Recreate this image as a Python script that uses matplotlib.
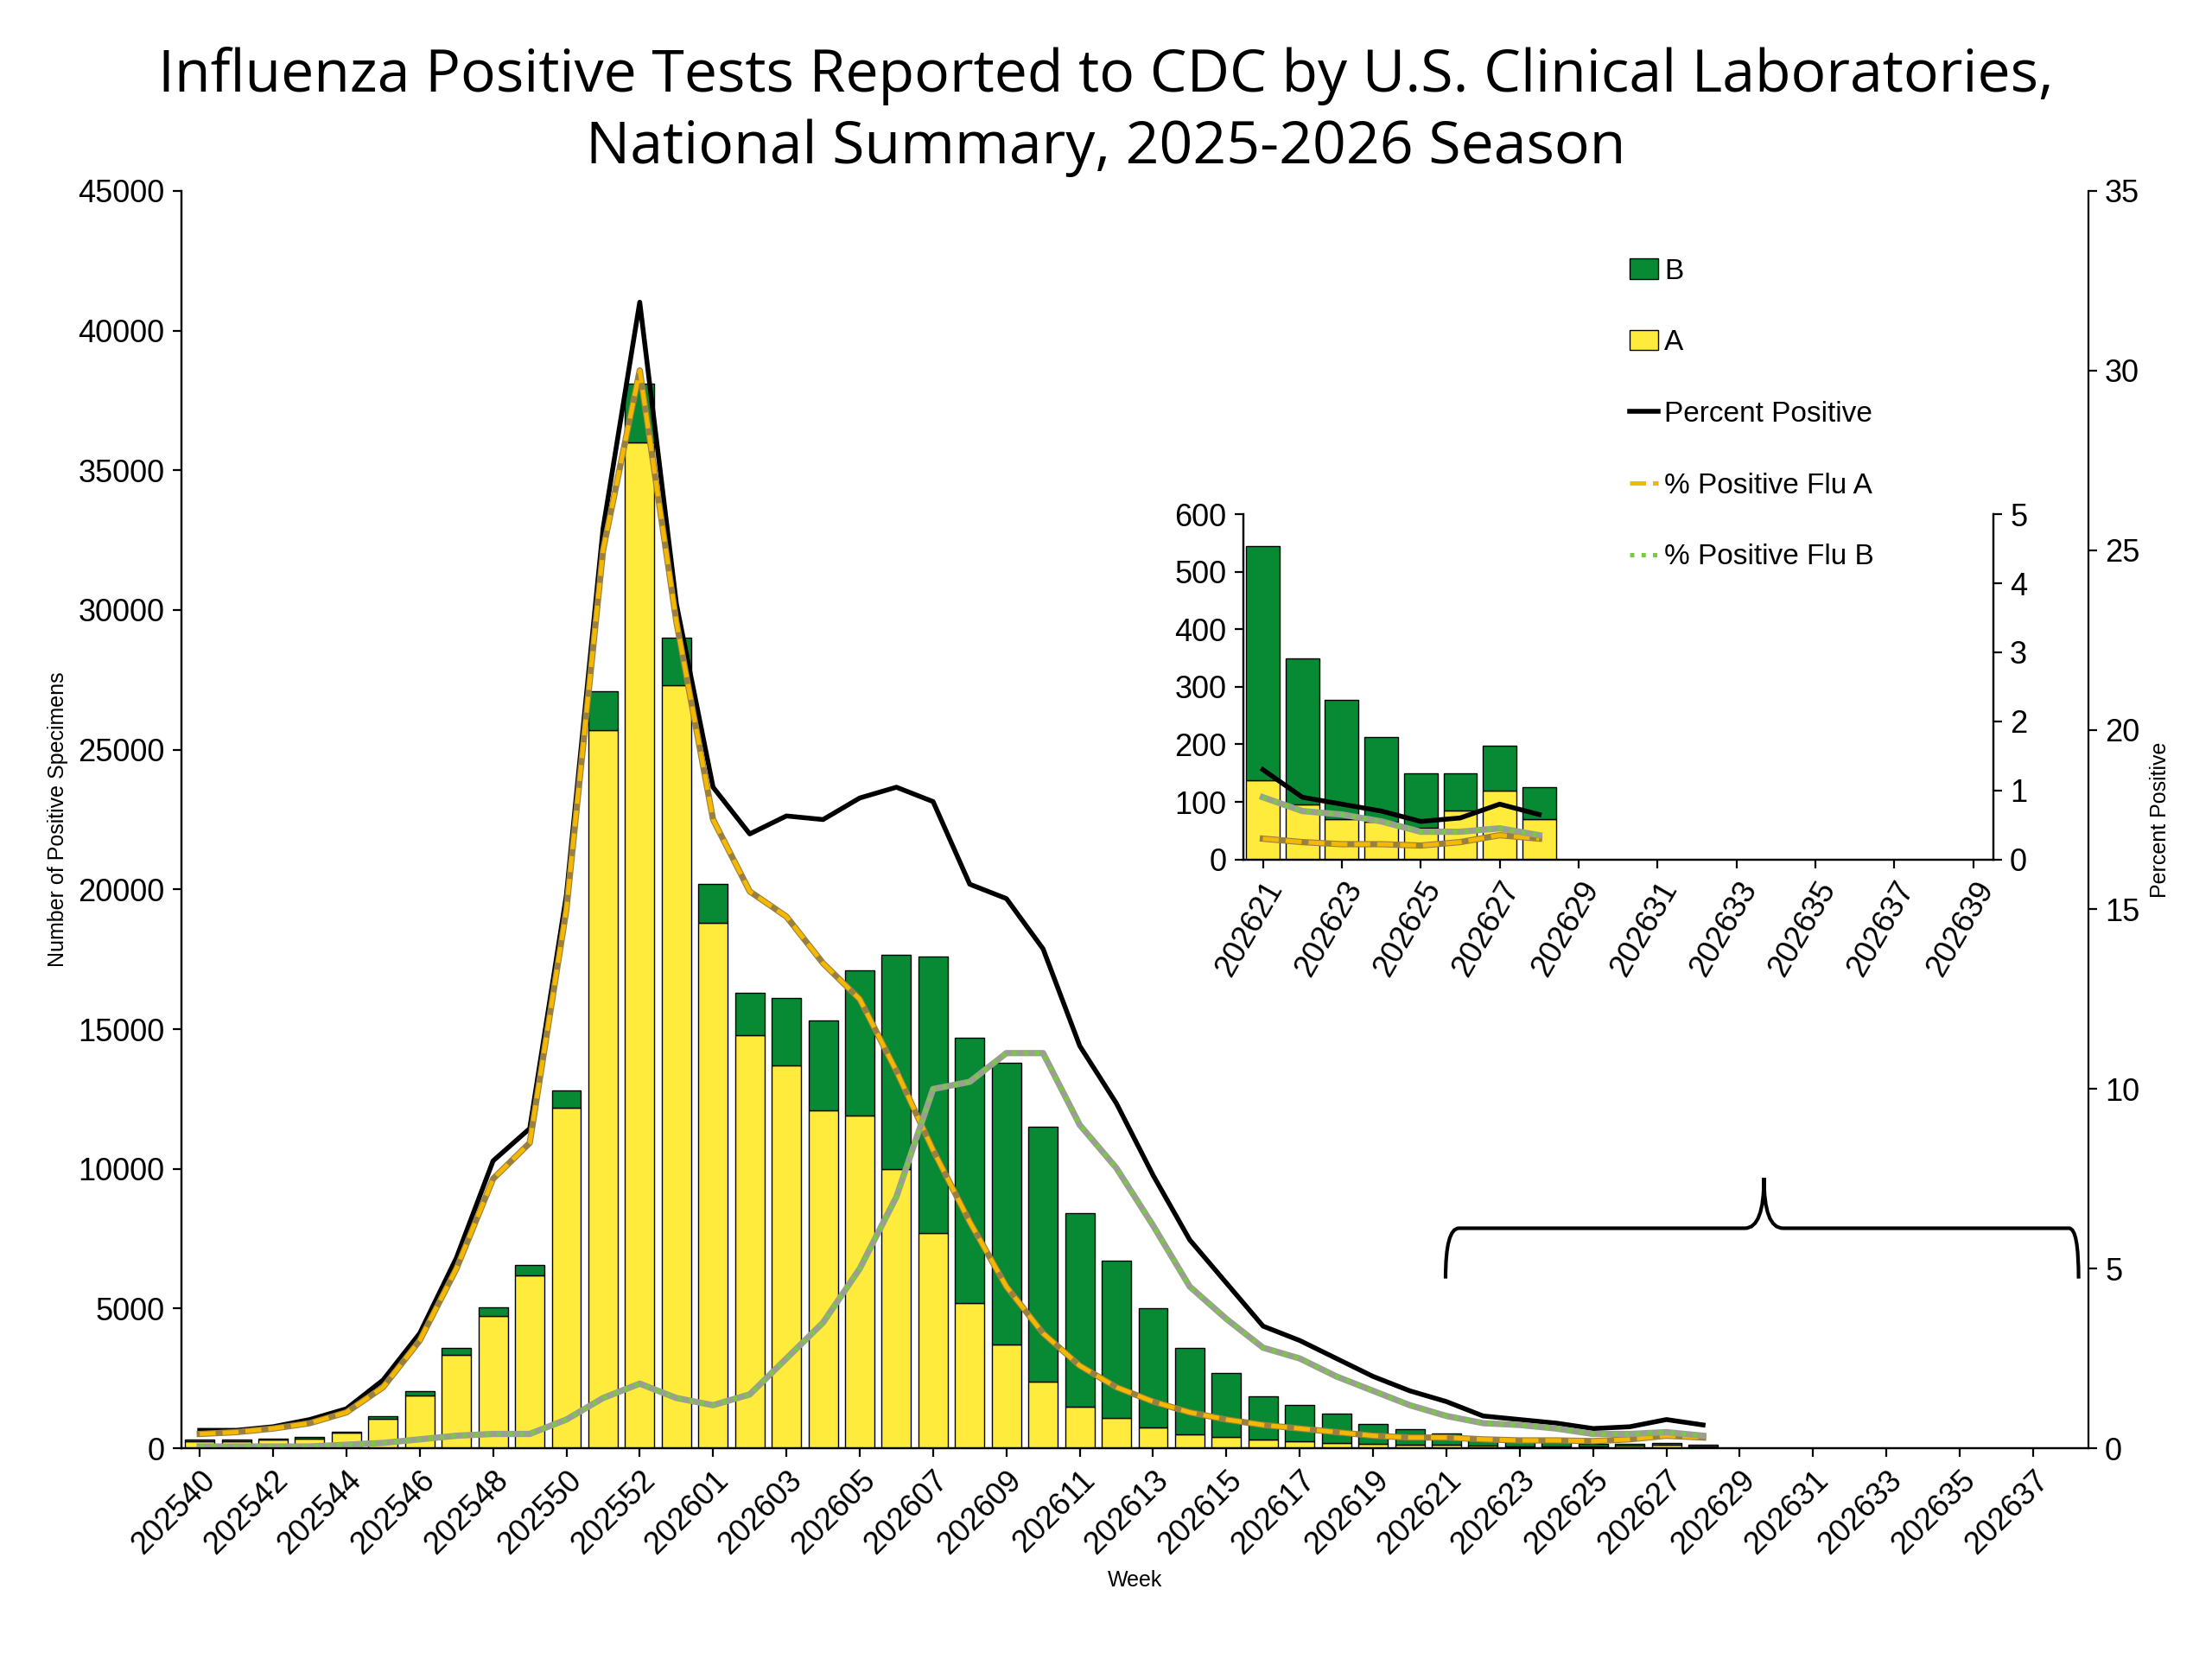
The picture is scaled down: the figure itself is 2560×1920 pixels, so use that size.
import numpy as np
import matplotlib
matplotlib.use('Agg')
from matplotlib import pyplot as plt
from matplotlib.path import Path
from matplotlib.patches import PathPatch

plt.rcParams['font.family'] = ['Liberation Sans', 'DejaVu Sans']

weeks = [str(202540 + i) for i in range(14)] + ['2026%02d' % i for i in range(1, 39)]

total_pos = [300, 300, 350, 400, 600, 1150, 2050, 3600, 5050, 6550, 12800, 27100, 38100, 29000,
             20200, 16300, 16100, 15300, 17100, 17650, 17600, 14700, 13800, 11500, 8400,
             6700, 5000, 3600, 2700, 1850, 1550, 1250, 880, 680, 545, 350, 278, 212, 150, 150, 197, 125]
flu_a = [250, 250, 300, 350, 550, 1050, 1900, 3350, 4750, 6200, 12200, 25700, 36000, 27300,
         18800, 14800, 13700, 12100, 11900, 10000, 7700, 5200, 3700, 2400, 1500,
         1100, 750, 500, 400, 300, 250, 200, 150, 140, 137, 95, 70, 65, 55, 85, 120, 70]
flu_b = [t - a for t, a in zip(total_pos, flu_a)]

pct_pos = [0.5, 0.5, 0.6, 0.8, 1.1, 1.9, 3.2, 5.3, 8.0, 8.9, 15.4, 25.6, 31.9, 23.5,
           18.4, 17.1, 17.6, 17.5, 18.1, 18.4, 18.0, 15.7, 15.3, 13.9, 11.2,
           9.6, 7.6, 5.8, 4.6, 3.4, 3.0, 2.5, 2.0, 1.6, 1.3, 0.9, 0.8, 0.7, 0.55, 0.6, 0.8, 0.65]
pct_a = [0.4, 0.45, 0.55, 0.7, 1.0, 1.7, 3.0, 5.0, 7.5, 8.5, 15.0, 25.0, 30.0, 23.0,
         17.5, 15.5, 14.8, 13.5, 12.5, 10.5, 8.3, 6.3, 4.5, 3.2, 2.3,
         1.7, 1.3, 1.0, 0.8, 0.65, 0.55, 0.45, 0.35, 0.3, 0.3, 0.25, 0.22, 0.22, 0.2, 0.25, 0.35, 0.3]
pct_b = [0.05, 0.05, 0.05, 0.05, 0.1, 0.15, 0.25, 0.35, 0.4, 0.4, 0.8, 1.4, 1.8, 1.4,
         1.2, 1.5, 2.5, 3.5, 5.0, 7.0, 10.0, 10.2, 11.0, 11.0, 9.0,
         7.8, 6.2, 4.5, 3.6, 2.8, 2.5, 2.0, 1.6, 1.2, 0.9, 0.7, 0.65, 0.55, 0.4, 0.4, 0.45, 0.35]

inset_weeks = ['2026%02d' % i for i in range(21, 40)]
n_inset = 8

yellow = '#ffeb3b'
green = '#078a33'


def draw_lines(a, xs, sl):
    a.plot(xs, pct_pos[sl], color='black', lw=2, label='Percent Positive')
    a.plot(xs, pct_a[sl], color='#9a8040', lw=2.6)
    a.plot(xs, pct_a[sl], color='#f5b800', lw=1.8, ls='--', label='% Positive Flu A')
    a.plot(xs, pct_b[sl], color='#9aa090', lw=2.6)
    a.plot(xs, pct_b[sl], color='#7ac943', lw=1.8, ls=':', label='% Positive Flu B')


fig = plt.figure(figsize=(12.8, 9.6), dpi=200)
ax = fig.add_axes([0.082, 0.127, 0.862, 0.758])
x = np.arange(len(weeks))
xd = np.arange(len(total_pos))
ax.bar(xd, flu_a, width=0.8, color=yellow, edgecolor='black', linewidth=0.5, label='A')
ax.bar(xd, flu_b, bottom=flu_a, width=0.8, color=green, edgecolor='black', linewidth=0.5, label='B')
ax.set_xlim(-0.5, len(weeks) - 0.5)
ax.set_ylim(0, 45000)
ax.set_yticks(range(0, 45001, 5000))
ax.set_xticks(x[::2])
ax.set_xticklabels(weeks[::2], rotation=45, ha='right', rotation_mode='anchor', fontsize=13)
ax.tick_params(axis='y', labelsize=13)
ax.set_xlabel('Week', fontsize=9)
ax.set_ylabel('Number of Positive Specimens', fontsize=9)
for s in ['top', 'right']:
    ax.spines[s].set_visible(False)

ax2 = ax.twinx()
draw_lines(ax2, xd, slice(None))
ax2.set_ylim(0, 35)
ax2.set_yticks(range(0, 36, 5))
ax2.tick_params(axis='y', labelsize=13)
ax2.set_ylabel('Percent Positive', fontsize=9)
ax2.spines['top'].set_visible(False)

h1, l1 = ax.get_legend_handles_labels()
h2, l2 = ax2.get_legend_handles_labels()
fig.legend(h1[::-1] + h2, l1[::-1] + l2, loc='upper left', bbox_to_anchor=(0.725, 0.86),
           frameon=False, fontsize=12, labelspacing=1.55, handlelength=1.0, handletextpad=0.2)

# brace over the inset's weeks
verts = [(0.663, 0.135), (0.663, 0.175), (0.67, 0.175), (0.68, 0.175),
         (0.82, 0.175), (0.83, 0.175), (0.83, 0.215),
         (0.83, 0.175), (0.84, 0.175), (0.98, 0.175),
         (0.99, 0.175), (0.995, 0.175), (0.995, 0.135)]
codes = [Path.MOVETO, Path.CURVE3, Path.CURVE3, Path.LINETO,
         Path.LINETO, Path.CURVE3, Path.CURVE3,
         Path.CURVE3, Path.CURVE3, Path.LINETO,
         Path.LINETO, Path.CURVE3, Path.CURVE3]
ax.add_patch(PathPatch(Path(verts, codes), transform=ax.transAxes, fill=False, lw=1.5, clip_on=False))

ins = fig.add_axes([0.562, 0.482, 0.339, 0.208])
xi = np.arange(len(inset_weeks))
xid = np.arange(n_inset)
ins.bar(xid, flu_a[-n_inset:], width=0.85, color=yellow, edgecolor='black', linewidth=0.5)
ins.bar(xid, flu_b[-n_inset:], bottom=flu_a[-n_inset:], width=0.85, color=green, edgecolor='black', linewidth=0.5)
ins.set_xlim(-0.5, len(inset_weeks) - 0.5)
ins.set_ylim(0, 600)
ins.set_yticks(range(0, 601, 100))
ins.set_xticks(xi[::2])
ins.set_xticklabels(inset_weeks[::2], rotation=60, ha='right', rotation_mode='anchor', fontsize=13)
ins.tick_params(axis='y', labelsize=13)
ins.spines['top'].set_visible(False)
ins2 = ins.twinx()
draw_lines(ins2, xid, slice(-n_inset, None))
ins2.set_ylim(0, 5)
ins2.tick_params(axis='y', labelsize=13)
ins2.spines['top'].set_visible(False)

fig.suptitle('Influenza Positive Tests Reported to CDC by U.S. Clinical Laboratories,\nNational Summary, 2025-2026 Season',
             fontsize=24.5, y=0.972, linespacing=1.3, family=['Open Sans', 'DejaVu Sans'])
fig.savefig('out.png')
